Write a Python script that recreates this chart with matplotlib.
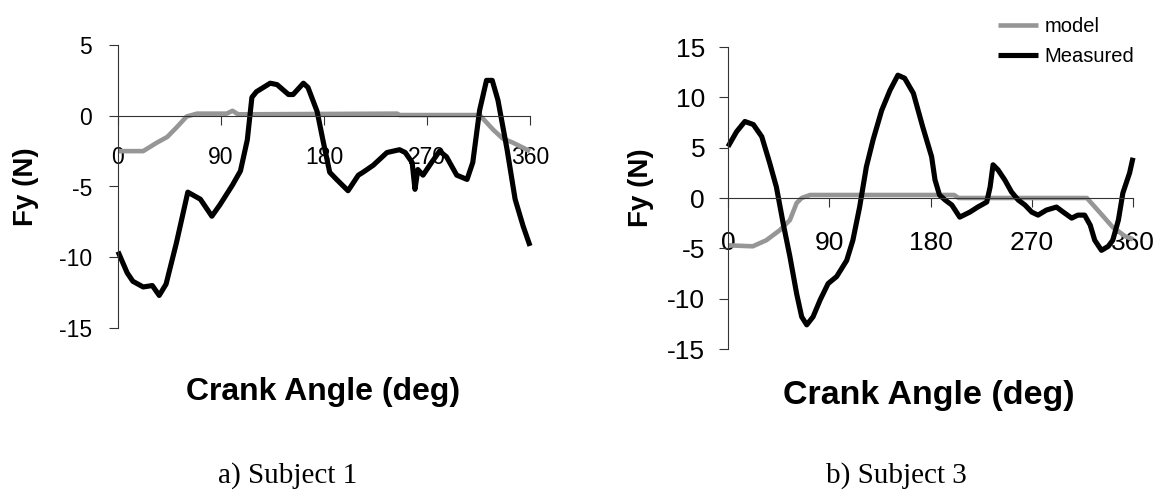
import numpy as np
import matplotlib
matplotlib.use("Agg")
import matplotlib.pyplot as plt

plt.rcParams['font.family'] = ['Liberation Sans', 'DejaVu Sans']
plt.rcParams['axes.unicode_minus'] = False

# Subject 1 (left panel)
ang1_meas = [0, 8, 13, 22, 30, 36, 42, 51, 61, 72, 82, 89, 100, 107, 113, 117, 121, 127,
             133, 139, 149, 153, 162, 166, 174, 179, 185, 191, 201, 210, 214, 223, 235,
             246, 251, 257, 259.5, 262, 266.5, 274, 281, 287, 296, 305, 310, 316, 322,
             327, 332, 340, 347, 354, 360]
fy1_meas = [-9.6, -11.1, -11.7, -12.1, -12.0, -12.7, -11.9, -9.0, -5.4, -5.9, -7.1, -6.3,
            -4.9, -3.9, -1.7, 1.3, 1.7, 2.0, 2.3, 2.2, 1.5, 1.5, 2.3, 2.0, 0.3, -1.7, -4.0,
            -4.5, -5.3, -4.2, -4.0, -3.5, -2.6, -2.4, -2.6, -3.3, -5.2, -3.8, -4.2, -3.3,
            -2.5, -2.9, -4.2, -4.5, -3.3, 0.4, 2.5, 2.5, 1.1, -2.4, -5.9, -7.8, -9.2]
ang1_model = [0, 22, 34, 43, 51.5, 60, 69, 95, 100, 105, 244, 246, 316, 328, 336, 345, 360]
fy1_model = [-2.5, -2.5, -1.9, -1.5, -0.8, -0.05, 0.15, 0.15, 0.35, 0.1, 0.15, 0.05, 0.05,
             -1.0, -1.6, -1.9, -2.5]

# Subject 3 (right panel)
ang3_meas = [0, 7.7, 15, 22.5, 30, 37, 43, 49, 55, 61, 65.5, 70, 75.6, 82, 89, 96.6, 105.5,
             111, 117, 123, 129, 136.6, 144, 151, 157, 164.8, 173, 181, 184, 188, 193, 199,
             206, 215, 222, 230, 233, 235.6, 240, 246, 252, 258, 264, 270, 275.6, 283, 292,
             298, 305.5, 311, 317, 322, 326, 332, 338, 342, 347, 351, 357, 360]
fy3_meas = [5.1, 6.6, 7.6, 7.3, 6.1, 3.5, 1.1, -2.5, -5.8, -9.5, -11.8, -12.6, -11.8, -10.1,
            -8.5, -7.8, -6.2, -4.2, -0.9, 3.1, 5.8, 8.7, 10.7, 12.2, 11.9, 10.4, 7.1, 4.1,
            1.8, 0.3, -0.2, -0.7, -1.9, -1.4, -0.9, -0.4, 1.1, 3.3, 2.8, 1.8, 0.6, -0.2,
            -0.7, -1.4, -1.7, -1.2, -0.9, -1.4, -2.0, -1.7, -1.7, -2.7, -4.2, -5.2, -4.8,
            -4.2, -2.2, 0.5, 2.5, 4.0]
ang3_model = [0, 22, 34, 46, 55, 61, 65.5, 73, 201, 205, 319, 331, 342, 353, 360]
fy3_model = [-4.7, -4.8, -4.2, -3.2, -2.2, -0.5, 0.0, 0.3, 0.3, 0.0, 0.0, -1.5, -2.9, -3.8, -4.1]

xticks = [0, 90, 180, 270, 360]
yticks1 = [-15, -10, -5, 0, 5]
yticks3 = [-15, -10, -5, 0, 5, 10, 15]

W, H = 1172, 494
fig = plt.figure(figsize=(W / 100, H / 100), dpi=100)

gray = '#969696'


def make_panel(rect, ang_m, fy_m, ang_d, fy_d, yticks, tsize, xpad, ypad):
    ax = fig.add_axes(rect)
    ax.plot(ang_d, fy_d, color=gray, lw=3.3, clip_on=False, label='model',
            solid_capstyle='butt')
    ax.plot(ang_m, fy_m, color='black', lw=3.7, clip_on=False, label='Measured',
            solid_capstyle='butt')
    ax.set_xlim(0, 360)
    ax.set_ylim(yticks[0], yticks[-1])
    ax.set_xticks(xticks)
    ax.set_yticks(yticks)
    ax.spines['top'].set_visible(False)
    ax.spines['right'].set_visible(False)
    ax.spines['bottom'].set_position(('data', 0))
    for s in ['left', 'bottom']:
        ax.spines[s].set_linewidth(0.8)
        ax.spines[s].set_color('#333333')
    ax.tick_params(axis='x', direction='out', length=6.5, width=0.8, color='#333333',
                   labelsize=tsize, pad=xpad)
    ax.tick_params(axis='y', direction='out', length=6.5, width=0.8, color='#333333',
                   labelsize=tsize, pad=ypad)
    ax.patch.set_alpha(0)
    return ax


ax1 = make_panel([118 / W, 1 - 328 / H, 412 / W, 283 / H],
                 ang1_meas, fy1_meas, ang1_model, fy1_model, yticks1, 16.5, 15, 12)
ax2 = make_panel([728 / W, 1 - 349 / H, 405 / W, 302 / H],
                 ang3_meas, fy3_meas, ang3_model, fy3_model, yticks3, 19, 17, 10)

# axis titles
fig.text(26 / W, 1 - 187 / H, 'Fy (N)', rotation=90, ha='center', va='center',
         fontsize=20, fontweight='bold')
fig.text(641 / W, 1 - 188 / H, 'Fy (N)', rotation=90, ha='center', va='center',
         fontsize=20, fontweight='bold')
fig.text(323 / W, 1 - 392 / H, 'Crank Angle (deg)', ha='center', va='center',
         fontsize=23, fontweight='bold')
fig.text(929 / W, 1 - 395 / H, 'Crank Angle (deg)', ha='center', va='center',
         fontsize=24.5, fontweight='bold')

# captions
fig.text(288 / W, 1 - 476 / H, 'a) Subject 1', ha='center', va='center',
         fontsize=21, family=['Liberation Serif', 'DejaVu Serif'])
fig.text(896 / W, 1 - 476 / H, 'b) Subject 3', ha='center', va='center',
         fontsize=21, family=['Liberation Serif', 'DejaVu Serif'])

ax2.legend(loc='center left', bbox_to_anchor=(998 / W, 1 - 41.5 / H),
           bbox_transform=fig.transFigure, frameon=False, fontsize=14.5,
           handlelength=2.0, handletextpad=0.3, labelspacing=0.55,
           borderpad=0, borderaxespad=0)

fig.savefig('out.png', dpi=100)
